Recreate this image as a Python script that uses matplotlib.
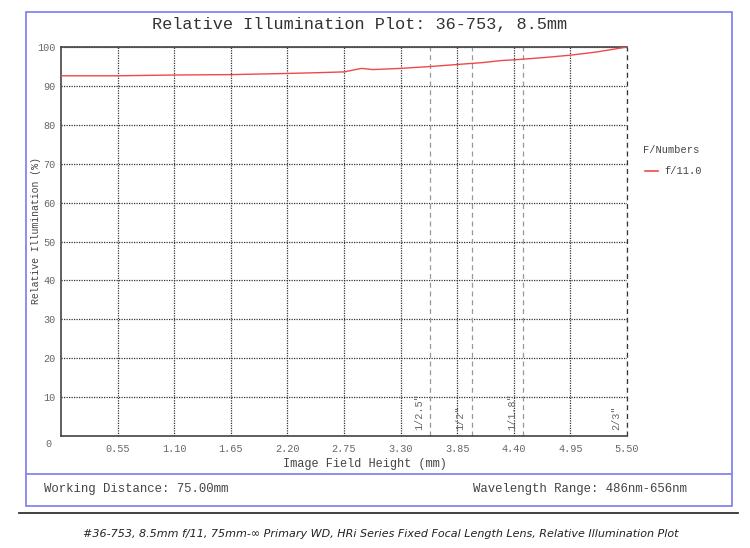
import matplotlib
matplotlib.use("Agg")
import matplotlib.pyplot as plt
from matplotlib.patches import Rectangle
from matplotlib.lines import Line2D
from matplotlib.transforms import ScaledTranslation

# data
field_mm = [0.00, 0.55, 1.10, 1.65, 2.20, 2.50, 2.75, 2.92, 3.03, 3.30,
            3.60, 3.85, 4.10, 4.27, 4.40, 4.70, 4.95, 5.20, 5.50]
rel_illum = [92.6, 92.6, 92.8, 92.9, 93.2, 93.4, 93.6, 94.5, 94.2, 94.5,
             95.0, 95.5, 96.0, 96.5, 96.7, 97.3, 97.9, 98.7, 100.0]
x_ticks = [0.55, 1.10, 1.65, 2.20, 2.75, 3.30, 3.85, 4.40, 4.95, 5.50]
y_ticks = [0, 10, 20, 30, 40, 50, 60, 70, 80, 90, 100]
sensor_names = ['1/2.5"', '1/2"', '1/1.8"', '2/3"']
sensor_half_diag = [3.59, 3.99, 4.49, 5.50]
series_label = "f/11.0"

MONO = "Liberation Mono"
BLUE = "#8585ee"
GREY = "#666666"
RED = "#f04848"

W, H = 750, 548
fig = plt.figure(figsize=(W / 100, H / 100), dpi=100)

def fx(px):
    return px / W

def fy(py):
    return 1 - py / H

ax = fig.add_axes([fx(61), fy(436), fx(627) - fx(61), fy(47) - fy(436)])
ax.set_xlim(0, 5.5)
ax.set_ylim(0, 100)

# grid
ax.set_xticks(x_ticks)
ax.set_yticks(y_ticks)
ax.grid(True, linestyle=(0, (1, 1)), color="#333333", linewidth=0.9)
ax.tick_params(length=0, labelsize=7.3, labelcolor=GREY)
ax.tick_params(axis="x", pad=6)
ax.tick_params(axis="y", pad=4)
for lbl in ax.get_xticklabels() + ax.get_yticklabels():
    lbl.set_fontfamily(MONO)
# "0" label sits lower and further left in the reference
zero = ax.get_yticklabels()[0]
zero.set_transform(zero.get_transform() + ScaledTranslation(-0.04, -0.07, fig.dpi_scale_trans))

for s in ["left", "bottom", "top"]:
    ax.spines[s].set_color("#444444")
    ax.spines[s].set_linewidth(1.2)
ax.spines["right"].set_visible(False)

# sensor size markers
for name, xv in zip(sensor_names, sensor_half_diag):
    ax.axvline(xv, color="#333333" if xv >= 5.5 else "#999999",
               linestyle=(0, (4, 3)), linewidth=0.9, zorder=2, clip_on=False)
    ax.text(xv - 0.06, 1.5, name, rotation=90, ha="right", va="bottom",
            fontsize=7.3, family=MONO, color=GREY)

line, = ax.plot(field_mm, rel_illum, color=RED, linewidth=1.0, zorder=5)

# axis titles placed at fixed spots
fig.text(fx(365), fy(464), "Image Field Height (mm)", family=MONO, fontsize=8.6,
         color="#444444", ha="center", va="center")
fig.text(fx(36), fy(231), "Relative Illumination (%)", family=MONO, fontsize=7.1,
         color="#444444", ha="center", va="center", rotation=90)

# legend
fig.text(fx(643), fy(150), "F/Numbers", family=MONO, fontsize=7.5,
         color="#444444", va="center")
fig.add_artist(Line2D([fx(645), fx(658)], [fy(171), fy(171)], color=RED, linewidth=1.2))
fig.text(fx(664), fy(171), series_label, family=MONO, fontsize=7.5,
         color="#444444", va="center")

# title
fig.text(fx(360), fy(25), "Relative Illumination Plot: 36-753, 8.5mm",
         family=MONO, fontsize=12.2, color="#333333", ha="center", va="center")

# outer frame and info strip
fig.add_artist(Rectangle((fx(26), fy(506)), fx(732) - fx(26), fy(12) - fy(506),
                         transform=fig.transFigure, facecolor="none",
                         edgecolor=BLUE, linewidth=1.3))
fig.add_artist(Line2D([fx(26), fx(732)], [fy(474), fy(474)], color=BLUE, linewidth=1.3))
fig.text(fx(44), fy(489), "Working Distance: 75.00mm", family=MONO,
         fontsize=8.9, color="#444444", va="center")
fig.text(fx(687), fy(489), "Wavelength Range: 486nm-656nm", family=MONO,
         fontsize=8.9, color="#444444", va="center", ha="right")

# caption
fig.add_artist(Line2D([fx(19), fx(738)], [fy(513), fy(513)], color="#333333", linewidth=1.3))
fig.text(fx(381), fy(534),
         "#36-753, 8.5mm f/11, 75mm-\u221e Primary WD, HRi Series Fixed Focal Length Lens, Relative Illumination Plot",
         family="DejaVu Sans", style="italic", fontsize=8, color="#222222",
         ha="center", va="center")

fig.savefig("out.png", dpi=100)
